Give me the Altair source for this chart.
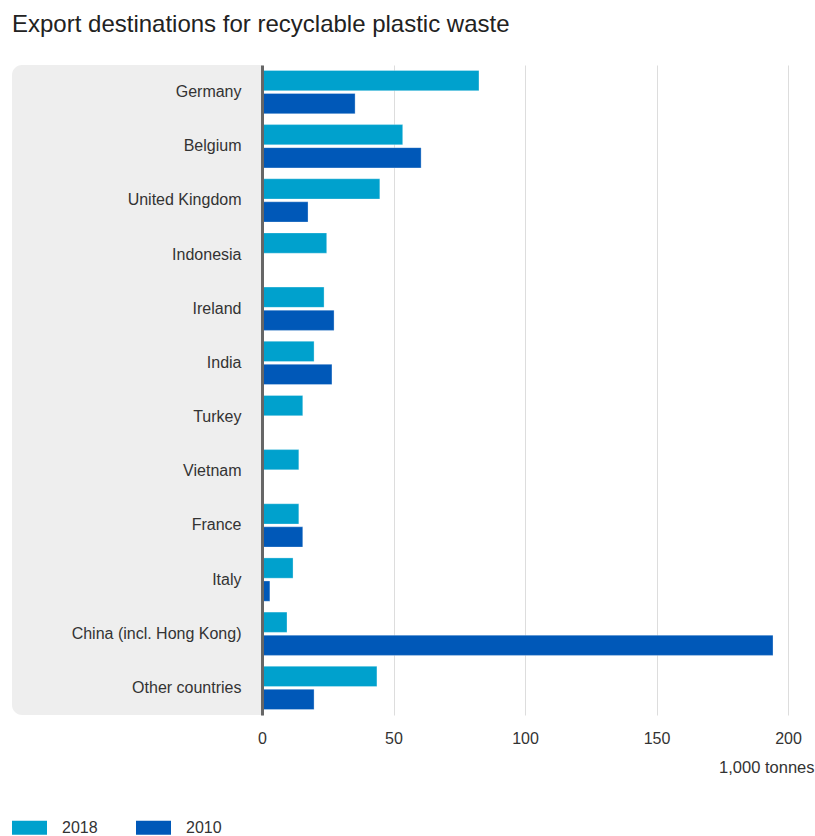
import altair as alt
import pandas as pd

countries = ["Germany", "Belgium", "United Kingdom", "Indonesia", "Ireland", "India",
             "Turkey", "Vietnam", "France", "Italy", "China (incl. Hong Kong)", "Other countries"]
values_2018 = [82.5, 53.5, 44.8, 24.6, 23.6, 19.8, 15.5, 14.0, 14.0, 11.8, 9.5, 43.7]
values_2010 = [35.4, 60.5, 17.5, 0.0, 27.4, 26.6, 0.4, 0.4, 15.5, 3.0, 194.3, 19.8]
years = ["2018", "2010"]
colors = ["#00a1cd", "#0058b8"]

rows = []
for c, a, b in zip(countries, values_2018, values_2010):
    rows.append({"country": c, "year": "2018", "value": a})
    rows.append({"country": c, "year": "2010", "value": b})
df = pd.DataFrame(rows)

FONT = "Liberation Sans"
W, H = 526, 650

panel = alt.Chart(pd.DataFrame({"a": [0]})).mark_rect(
    color="#eeeeee", cornerRadiusTopLeft=10, cornerRadiusBottomLeft=10
).encode(
    x=alt.value(-250), x2=alt.value(0), y=alt.value(0), y2=alt.value(H)
)

bars = alt.Chart(df).mark_bar(stroke="#ffffff", strokeWidth=0.6, strokeOpacity=0.5).encode(
    y=alt.Y("country:N", sort=countries,
            scale=alt.Scale(paddingInner=0.2, paddingOuter=0.1),
            axis=alt.Axis(title=None, ticks=False, labelPadding=21, labelFontSize=16,
                          labelColor="#333333", labelFont=FONT, domainColor="#666666",
                          domainWidth=3, grid=False, zindex=2)),
    yOffset=alt.YOffset("year:N", sort=years, scale=alt.Scale(paddingInner=0.12)),
    x=alt.X("value:Q", scale=alt.Scale(domain=[0, 200], nice=False),
            axis=alt.Axis(values=[0, 50, 100, 150, 200], title="1,000 tonnes", domain=False,
                          ticks=False, labelPadding=15, labelFontSize=16, labelColor="#333333",
                          labelFont=FONT, labelFlush=False, gridColor="#dddddd", gridWidth=1,
                          titleFont=FONT, titleFontSize=16.5, titleFontWeight="normal",
                          titleColor="#333333", titleAnchor="end", titleAlign="right",
                          titleX=W + 26, titleY=52, titleBaseline="middle")),
    color=alt.Color("year:N", sort=years,
                    scale=alt.Scale(domain=years, range=colors),
                    legend=alt.Legend(title=None, orient="none", legendX=-250, legendY=745,
                                      direction="horizontal",
                                      symbolType="M-1,-0.4H1V0.4H-1Z", symbolSize=1225,
                                      symbolStrokeWidth=0, labelFontSize=16, labelFont=FONT,
                                      labelColor="#333333", labelOffset=15, columnPadding=38)),
)

chart = alt.layer(panel, bars).properties(
    width=W, height=H,
    background="white",
    title=alt.Title("Export destinations for recyclable plastic waste", anchor="start",
                    frame="group", dx=-250, fontSize=24, font=FONT, fontWeight="normal",
                    color="#222222", offset=28),
    autosize=alt.AutoSizeParams(type="none"),
    padding={"left": 262, "top": 65, "right": 27, "bottom": 121},
).configure_view(stroke=None)

chart.save("out.html", embed_options={"renderer": "svg", "actions": False})
